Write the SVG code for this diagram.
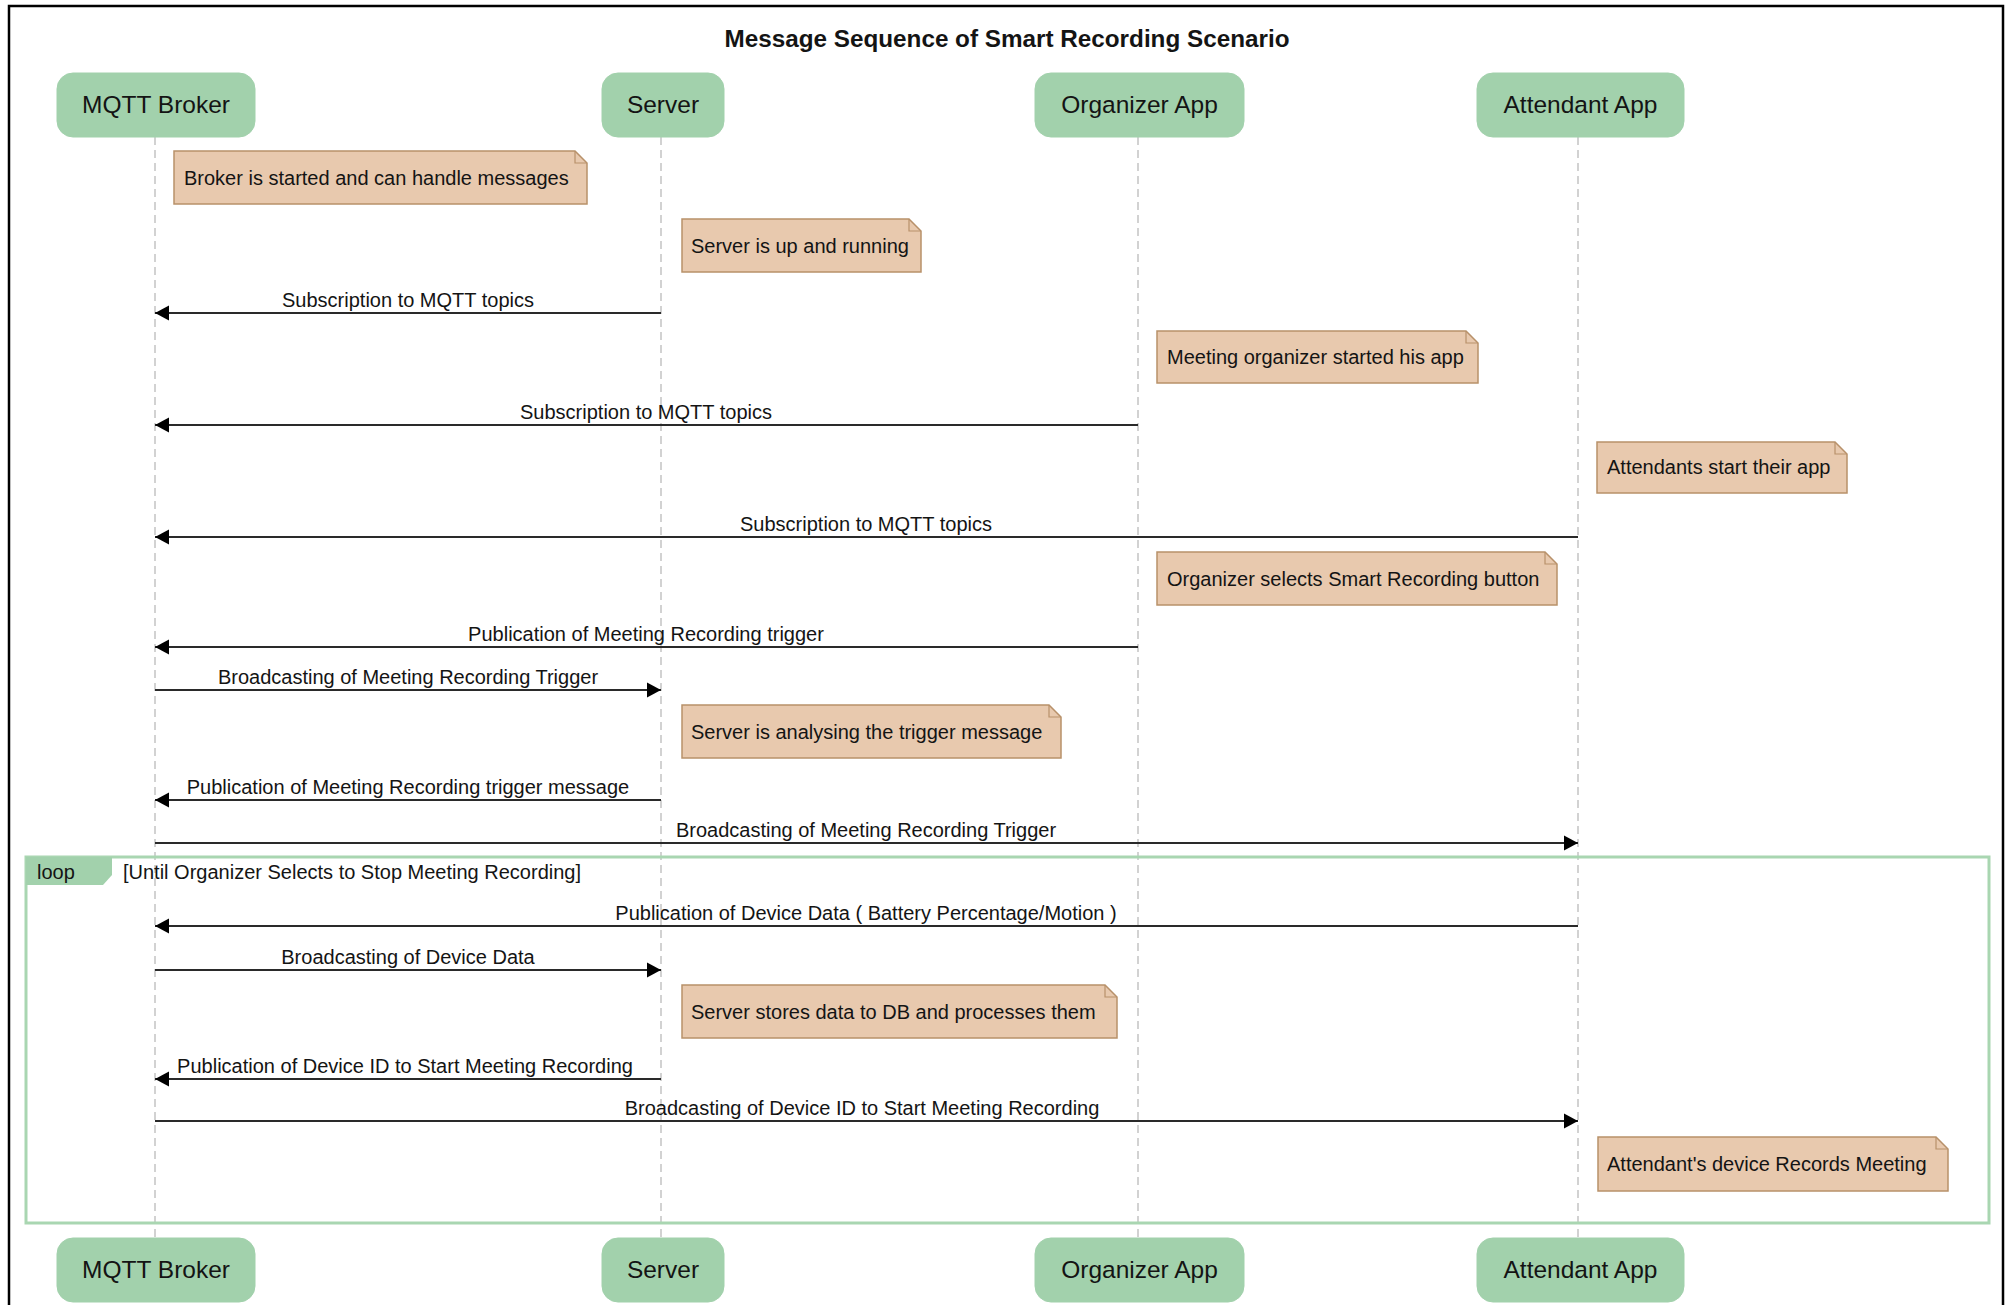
<svg xmlns="http://www.w3.org/2000/svg" width="2013" height="1305" viewBox="0 0 2013 1305">
  <style>
    text { font-family: "Liberation Sans", Arial, sans-serif; fill: #141414; }
    .title { font-size: 23px; font-weight: bold; }
    .actor rect { fill: #a2d1ac; stroke: #a2d1ac; stroke-width: 1; }
    .actor text { font-size: 24.5px; text-anchor: middle; }
    .lifeline { stroke: #c4c4c4; stroke-width: 1.5; stroke-dasharray: 8 5; fill: none; }
    .note path.body { fill: #e8c9ae; stroke: #b8916a; stroke-width: 1.5; }
    .note path.fold { fill: none; stroke: #b8916a; stroke-width: 1.2; }
    .note text { font-size: 20px; }
    .msg line { stroke: #2a2a2a; stroke-width: 2; marker-end: url(#arrow); }
    .msg text { font-size: 20px; text-anchor: middle; }
    .frame { fill: none; stroke: #a9d6b1; stroke-width: 3; }
    .tab { fill: #a2d1ac; }
    .frame-label { font-size: 20px; }
  </style>
  <defs>
    <marker id="arrow" markerUnits="userSpaceOnUse" markerWidth="15" markerHeight="16" viewBox="0 0 15 16" refX="14" refY="8" orient="auto">
      <path d="M0,0.5 L14,8 L0,15.5 z" fill="#000"/>
    </marker>
  </defs>

  <rect width="2013" height="1305" fill="#ffffff"/>
  <!-- outer border -->
  <rect x="9" y="6" width="1994" height="1320" fill="none" stroke="#000" stroke-width="2.5"/>

  <text class="title" x="1007" y="47" text-anchor="middle" textLength="565" lengthAdjust="spacingAndGlyphs">Message Sequence of Smart Recording Scenario</text>

  <!-- lifelines -->
  <g id="lifelines">
    <line class="lifeline" x1="155" y1="137" x2="155" y2="1238"/>
    <line class="lifeline" x1="661" y1="137" x2="661" y2="1238"/>
    <line class="lifeline" x1="1138" y1="137" x2="1138" y2="1238"/>
    <line class="lifeline" x1="1578" y1="137" x2="1578" y2="1238"/>
  </g>

  <!-- loop fragment -->
  <g id="loop-fragment">
    <rect class="frame" x="26" y="857" width="1963" height="366"/>
    <polygon class="tab" points="26,857 112,857 112,875 103,885 26,885"/>
    <text class="frame-label" x="37" y="879">loop</text>
    <text class="frame-label" x="123" y="879">[Until Organizer Selects to Stop Meeting Recording]</text>
  </g>

  <!-- participants (top) -->
  <g id="broker-top" class="actor"><rect x="57" y="73" width="198" height="64" rx="16"/><text x="156" y="113">MQTT Broker</text></g>
  <g id="server-top" class="actor"><rect x="602" y="73" width="122" height="64" rx="16"/><text x="663" y="113">Server</text></g>
  <g id="organizer-top" class="actor"><rect x="1035" y="73" width="209" height="64" rx="16"/><text x="1139.5" y="113">Organizer App</text></g>
  <g id="attendant-top" class="actor"><rect x="1477" y="73" width="207" height="64" rx="16"/><text x="1580.5" y="113">Attendant App</text></g>

  <!-- participants (bottom) -->
  <g id="broker-bottom" class="actor"><rect x="57" y="1238" width="198" height="64" rx="16"/><text x="156" y="1278">MQTT Broker</text></g>
  <g id="server-bottom" class="actor"><rect x="602" y="1238" width="122" height="64" rx="16"/><text x="663" y="1278">Server</text></g>
  <g id="organizer-bottom" class="actor"><rect x="1035" y="1238" width="209" height="64" rx="16"/><text x="1139.5" y="1278">Organizer App</text></g>
  <g id="attendant-bottom" class="actor"><rect x="1477" y="1238" width="207" height="64" rx="16"/><text x="1580.5" y="1278">Attendant App</text></g>

  <!-- notes -->
  <g id="note-broker-started" class="note">
    <path class="body" d="M174,151 H575 L587,163 V204 H174 Z"/><path class="fold" d="M575,151 V163 H587"/>
    <text x="184" y="185">Broker is started and can handle messages</text>
  </g>
  <g id="note-server-up" class="note">
    <path class="body" d="M682,219 H909 L921,231 V272 H682 Z"/><path class="fold" d="M909,219 V231 H921"/>
    <text x="691" y="253">Server is up and running</text>
  </g>
  <g id="note-organizer-started" class="note">
    <path class="body" d="M1157,331 H1466 L1478,343 V383 H1157 Z"/><path class="fold" d="M1466,331 V343 H1478"/>
    <text x="1167" y="364">Meeting organizer started his app</text>
  </g>
  <g id="note-attendants-start" class="note">
    <path class="body" d="M1597,442 H1835 L1847,454 V493 H1597 Z"/><path class="fold" d="M1835,442 V454 H1847"/>
    <text x="1607" y="474">Attendants start their app</text>
  </g>
  <g id="note-organizer-selects" class="note">
    <path class="body" d="M1157,552 H1545 L1557,564 V605 H1157 Z"/><path class="fold" d="M1545,552 V564 H1557"/>
    <text x="1167" y="586">Organizer selects Smart Recording button</text>
  </g>
  <g id="note-server-analysing" class="note">
    <path class="body" d="M682,705 H1049 L1061,717 V758 H682 Z"/><path class="fold" d="M1049,705 V717 H1061"/>
    <text x="691" y="739">Server is analysing the trigger message</text>
  </g>
  <g id="note-server-stores" class="note">
    <path class="body" d="M682,985 H1105 L1117,997 V1038 H682 Z"/><path class="fold" d="M1105,985 V997 H1117"/>
    <text x="691" y="1019">Server stores data to DB and processes them</text>
  </g>
  <g id="note-attendant-records" class="note">
    <path class="body" d="M1598,1137 H1936 L1948,1149 V1191 H1598 Z"/><path class="fold" d="M1936,1137 V1149 H1948"/>
    <text x="1607" y="1171">Attendant's device Records Meeting</text>
  </g>

  <!-- messages -->
  <g id="messages">
    <g class="msg"><line x1="661" y1="313" x2="155" y2="313"/><text x="408" y="307">Subscription to MQTT topics</text></g>
    <g class="msg"><line x1="1138" y1="425" x2="155" y2="425"/><text x="646" y="419">Subscription to MQTT topics</text></g>
    <g class="msg"><line x1="1578" y1="537" x2="155" y2="537"/><text x="866" y="531">Subscription to MQTT topics</text></g>
    <g class="msg"><line x1="1138" y1="647" x2="155" y2="647"/><text x="646" y="641">Publication of Meeting Recording trigger</text></g>
    <g class="msg"><line x1="155" y1="690" x2="661" y2="690"/><text x="408" y="684">Broadcasting of Meeting Recording Trigger</text></g>
    <g class="msg"><line x1="661" y1="800" x2="155" y2="800"/><text x="408" y="794">Publication of Meeting Recording trigger message</text></g>
    <g class="msg"><line x1="155" y1="843" x2="1578" y2="843"/><text x="866" y="837">Broadcasting of Meeting Recording Trigger</text></g>
    <g class="msg"><line x1="1578" y1="926" x2="155" y2="926"/><text x="866" y="920">Publication of Device Data ( Battery Percentage/Motion )</text></g>
    <g class="msg"><line x1="155" y1="970" x2="661" y2="970"/><text x="408" y="964">Broadcasting of Device Data</text></g>
    <g class="msg"><line x1="661" y1="1079" x2="155" y2="1079"/><text x="405" y="1073">Publication of Device ID to Start Meeting Recording</text></g>
    <g class="msg"><line x1="155" y1="1121" x2="1578" y2="1121"/><text x="862" y="1115">Broadcasting of Device ID to Start Meeting Recording</text></g>
  </g>
</svg>
